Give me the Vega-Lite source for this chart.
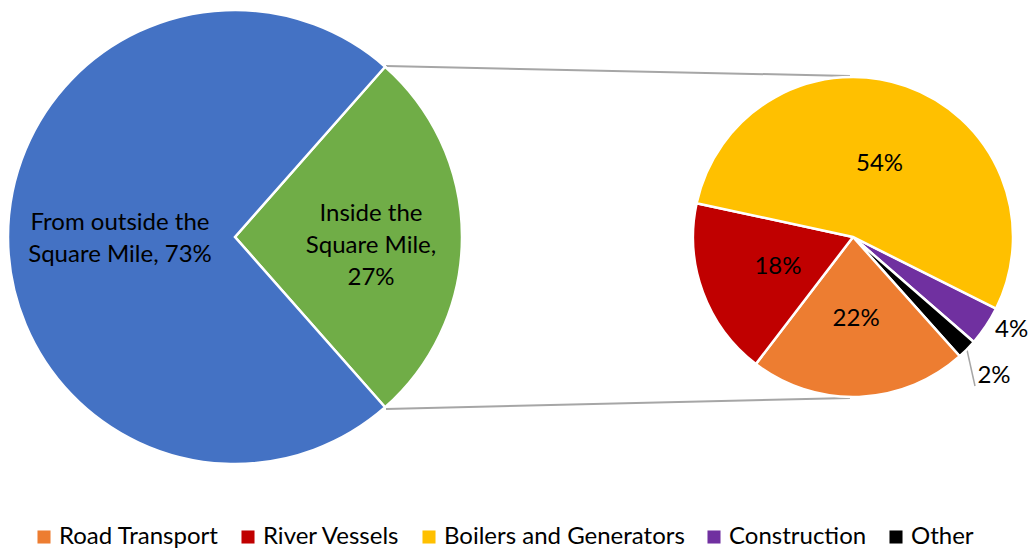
{
  "$schema": "https://vega.github.io/schema/vega-lite/v6.json",
  "width": 1035,
  "height": 500,
  "padding": 0,
  "background": "white",
  "config": {"view": {"stroke": null}, "font": "Lato"},
  "datasets": {
    "origin": [
      {"part": "Inside the Square Mile", "share": 0.27, "label": "Inside the\nSquare Mile,\n27%", "k": 1},
      {"part": "From outside the Square Mile", "share": 0.73, "label": "From outside the\nSquare Mile, 73%", "k": 2}
    ],
    "sources": [
      {"source": "Construction", "share": 0.04, "label": "4%", "k": 1},
      {"source": "Other", "share": 0.02, "label": "2%", "k": 2},
      {"source": "Road Transport", "share": 0.22, "label": "22%", "k": 3},
      {"source": "River Vessels", "share": 0.18, "label": "18%", "k": 4},
      {"source": "Boilers and Generators", "share": 0.54, "label": "54%", "k": 5}
    ],
    "one": [{}]
  },
  "resolve": {"scale": {"theta": "independent", "color": "independent"}},
  "layer": [
    {
      "data": {"name": "one"},
      "mark": {"type": "rule", "color": "#a6a6a6", "strokeWidth": 2},
      "encoding": {
        "x": {"datum": 386, "type": "quantitative", "scale": {"domain": [0, 1035], "nice": false, "zero": false}, "axis": null},
        "y": {"datum": 66, "type": "quantitative", "scale": {"domain": [0, 500], "nice": false, "zero": false, "reverse": true}, "axis": null},
        "x2": {"datum": 850},
        "y2": {"datum": 76}
      }
    },
    {
      "data": {"name": "one"},
      "mark": {"type": "rule", "color": "#a6a6a6", "strokeWidth": 2},
      "encoding": {
        "x": {"datum": 386, "type": "quantitative", "scale": {"domain": [0, 1035], "nice": false, "zero": false}, "axis": null},
        "y": {"datum": 409, "type": "quantitative", "scale": {"domain": [0, 500], "nice": false, "zero": false, "reverse": true}, "axis": null},
        "x2": {"datum": 850},
        "y2": {"datum": 398}
      }
    },
    {
      "data": {"name": "one"},
      "mark": {"type": "rule", "color": "#a6a6a6", "strokeWidth": 1.5},
      "encoding": {
        "x": {"datum": 967, "type": "quantitative", "scale": {"domain": [0, 1035], "nice": false, "zero": false}, "axis": null},
        "y": {"datum": 350, "type": "quantitative", "scale": {"domain": [0, 500], "nice": false, "zero": false, "reverse": true}, "axis": null},
        "x2": {"datum": 975},
        "y2": {"datum": 386}
      }
    },
    {
      "data": {"name": "origin"},
      "encoding": {
        "x": {"datum": 235, "type": "quantitative", "scale": {"domain": [0, 1035], "nice": false, "zero": false}, "axis": null},
        "y": {"datum": 237, "type": "quantitative", "scale": {"domain": [0, 500], "nice": false, "zero": false, "reverse": true}, "axis": null},
        "theta": {"field": "share", "type": "quantitative", "stack": true, "scale": {"range": [0.7226, 7.0058]}},
        "order": {"field": "k", "type": "quantitative"}
      },
      "layer": [
        {
          "mark": {"type": "arc", "outerRadius": 227, "stroke": "white", "strokeWidth": 2.5},
          "encoding": {
            "color": {"field": "part", "type": "nominal", "legend": null,
              "scale": {"domain": ["Inside the Square Mile", "From outside the Square Mile"], "range": ["#70AD47", "#4472C4"]}}
          }
        },
        {
          "mark": {"type": "text", "radius": 115, "dy": -14, "fontSize": 24, "lineHeight": 32, "lineBreak": "\n", "align": "center", "baseline": "middle", "color": "black"},
          "encoding": {
            "text": {"condition": {"test": "datum.k == 2", "field": "label", "type": "nominal"}, "value": ""}
          }
        },
        {
          "mark": {"type": "text", "radius": 136, "dy": -23, "fontSize": 24, "lineHeight": 32, "lineBreak": "\n", "align": "center", "baseline": "middle", "color": "black"},
          "encoding": {
            "text": {"condition": {"test": "datum.k == 1", "field": "label", "type": "nominal"}, "value": ""}
          }
        }
      ]
    },
    {
      "data": {"name": "sources"},
      "encoding": {
        "x": {"datum": 853, "type": "quantitative", "scale": {"domain": [0, 1035], "nice": false, "zero": false}, "axis": null},
        "y": {"datum": 237, "type": "quantitative", "scale": {"domain": [0, 500], "nice": false, "zero": false, "reverse": true}, "axis": null},
        "theta": {"field": "share", "type": "quantitative", "stack": true, "scale": {"range": [2.035, 8.318]}},
        "order": {"field": "k", "type": "quantitative"}
      },
      "layer": [
        {
          "mark": {"type": "arc", "outerRadius": 160, "stroke": "white", "strokeWidth": 2.5},
          "encoding": {
            "color": {"field": "source", "type": "nominal",
              "scale": {"domain": ["Road Transport", "River Vessels", "Boilers and Generators", "Construction", "Other"],
                        "range": ["#ED7D31", "#C00000", "#FFC000", "#7030A0", "#000000"]},
              "legend": {"orient": "none", "legendX": 32, "legendY": 525, "direction": "horizontal", "title": null,
                         "symbolType": "square", "symbolSize": 170, "symbolStrokeWidth": 0, "labelLimit": 0,
                         "labelFontSize": 24, "labelFont": "Lato", "labelColor": "black", "labelOffset": 3, "columnPadding": 17}
            }
          }
        },
        {
          "mark": {"type": "text", "radius": 80, "dy": 2, "fontSize": 24, "align": "center", "baseline": "middle", "color": "black"},
          "encoding": {
            "text": {"condition": {"test": "datum.share >= 0.1", "field": "label", "type": "nominal"}, "value": ""}
          }
        },
        {
          "mark": {"type": "text", "radius": 186, "dx": 4, "dy": -10, "fontSize": 24, "align": "center", "baseline": "middle", "color": "black"},
          "encoding": {
            "text": {"condition": {"test": "datum.k == 1", "field": "label", "type": "nominal"}, "value": ""}
          }
        },
        {
          "mark": {"type": "text", "radius": 198, "fontSize": 24, "align": "center", "baseline": "middle", "color": "black"},
          "encoding": {
            "text": {"condition": {"test": "datum.k == 2", "field": "label", "type": "nominal"}, "value": ""}
          }
        }
      ]
    }
  ]
}
